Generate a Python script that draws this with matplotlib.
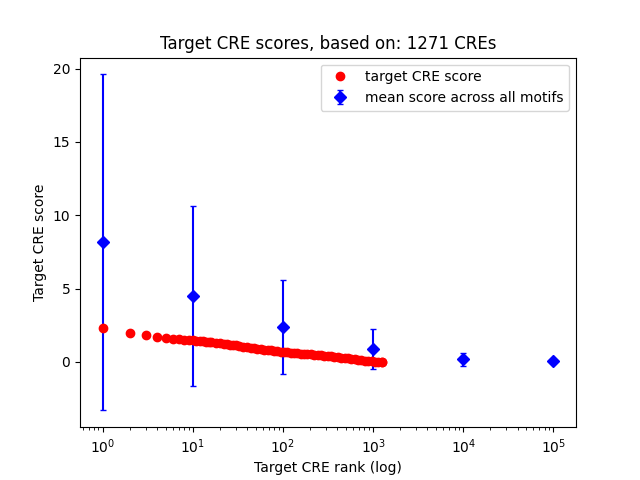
import numpy as np
import matplotlib
matplotlib.use("Agg")
import matplotlib.pyplot as plt

# target CRE scores (rank -> score)
ranks = [1, 2, 3, 4, 5, 6, 7, 8, 9, 10,
         11, 12, 13, 14, 15, 16, 18, 20, 22, 24, 26, 28, 30, 33, 36, 40,
         44, 48, 52, 57, 62, 68, 74, 80, 87, 95, 103, 112, 122, 133, 145,
         158, 172, 187, 204, 222, 242, 264, 288, 314, 342, 373, 406, 443,
         483, 526, 573, 625, 681, 742, 809, 882, 961, 1048, 1142, 1245, 1271]
scores = [2.31, 1.97, 1.83, 1.70, 1.64, 1.60, 1.56, 1.53, 1.50, 1.47,
          1.45, 1.43, 1.41, 1.39, 1.37, 1.35, 1.31, 1.28, 1.25, 1.22, 1.19,
          1.16, 1.13, 1.08, 1.04, 1.00, 0.97, 0.94, 0.91, 0.88, 0.85, 0.82,
          0.79, 0.76, 0.73, 0.70, 0.68, 0.66, 0.64, 0.61, 0.59, 0.57, 0.55,
          0.53, 0.51, 0.49, 0.47, 0.45, 0.43, 0.41, 0.38, 0.36, 0.33, 0.30,
          0.27, 0.25, 0.22, 0.19, 0.16, 0.13, 0.10, 0.07, 0.05, 0.03, 0.01,
          0.0, -0.01]

# mean score across all motifs, with error
mean_ranks = [1, 10, 100, 1000, 10000, 100000]
mean_scores = [8.15, 4.5, 2.4, 0.87, 0.18, 0.05]
mean_err = [11.45, 6.15, 3.2, 1.37, 0.45, 0.02]

fig, ax = plt.subplots(figsize=(6.4, 4.8), dpi=100)

eb = ax.errorbar(mean_ranks, mean_scores, yerr=mean_err, fmt='bD', capsize=2,
                 label='mean score across all motifs')
pts, = ax.plot(ranks, scores, 'ro', label='target CRE score')

ax.set_xscale('log')
ax.set_title('Target CRE scores, based on: 1271 CREs')
ax.set_xlabel('Target CRE rank (log)')
ax.set_ylabel('Target CRE score')
ax.legend(handles=[pts, eb], loc='upper right')

plt.savefig('out.png')
